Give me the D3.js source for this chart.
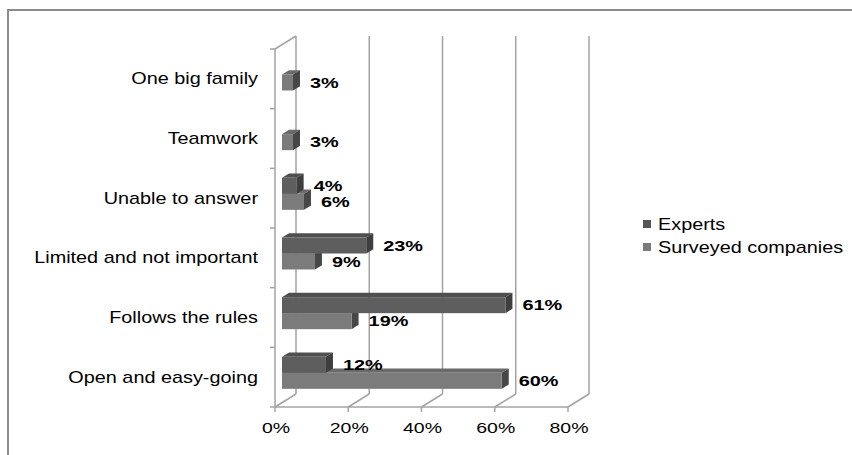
<!DOCTYPE html>
<html>
<head>
<meta charset="utf-8">
<script src="https://cdn.jsdelivr.net/npm/d3@7"></script>
<style>
  body { margin: 0; background: #fff; }
  svg { display: block; font-family: "Liberation Sans", Arial, sans-serif; }
</style>
</head>
<body>
<div id="graph"></div>
<script>
const categories = ["One big family", "Teamwork", "Unable to answer", "Limited and not important", "Follows the rules", "Open and easy-going"]
const seriesNames = ["Experts", "Surveyed companies"]
const experts = [0, 0, 4, 23, 61, 12]
const surveyed = [3, 3, 6, 9, 19, 60]
const xTicks = [0, 20, 40, 60, 80]

const width = 852
const height = 455

// depth of the 3d box (back wall offset)
const DX = 21
const DY = -13

const front = { left: 275, right: 568, top: 49, bottom: 407 }

const colors = {
  "Experts": { front: "#5e5e5e", top: "#4f4f4f", side: "#3e3e3e", key: "#555555" },
  "Surveyed companies": { front: "#7b7b7b", top: "#6a6a6a", side: "#474747", key: "#7b7b7b" }
}

const xScale = d3.scaleLinear()
                 .domain([0, 80])
                 .range([front.left, front.right])

const yScale = d3.scaleBand()
                 .domain(categories)
                 .range([front.top, front.bottom])
                 .paddingInner(0.464)
                 .paddingOuter(0.232)

const ySub = d3.scaleBand()
               .domain(seriesNames)
               .range([0, yScale.bandwidth()])

const svg = d3.select("#graph")
              .append("svg")
              .attr("width", width)
              .attr("height", height)

// outer frame
svg.append("rect")
   .attr("x", 8)
   .attr("y", 10)
   .attr("width", 900)
   .attr("height", 500)
   .attr("fill", "none")
   .attr("stroke", "#8c8c8c")
   .attr("stroke-width", 2)

const grid = svg.append("g")
                .attr("stroke", "#a3a3a3")
                .attr("stroke-width", 1.5)
                .attr("fill", "none")

// back wall gridlines + floor diagonals
xTicks.forEach(t => {
  const x = xScale(t)
  grid.append("line")
      .attr("x1", x + DX).attr("y1", front.top + DY)
      .attr("x2", x + DX).attr("y2", front.bottom + DY)
  grid.append("line")
      .attr("x1", x).attr("y1", front.bottom)
      .attr("x2", x + DX).attr("y2", front.bottom + DY)
  // tick below front floor edge
  grid.append("line")
      .attr("x1", x).attr("y1", front.bottom)
      .attr("x2", x).attr("y2", front.bottom + 5)
})

// left side wall
grid.append("line")
    .attr("x1", front.left).attr("y1", front.top)
    .attr("x2", front.left).attr("y2", front.bottom)
grid.append("line")
    .attr("x1", front.left).attr("y1", front.top)
    .attr("x2", front.left + DX).attr("y2", front.top + DY)

// front floor edge
grid.append("line")
    .attr("x1", front.left).attr("y1", front.bottom)
    .attr("x2", front.right).attr("y2", front.bottom)

// category ticks
const catBounds = categories.map(c => yScale(c) - yScale.step() * yScale.paddingInner() / 2)
catBounds.push(front.bottom)
catBounds.forEach(y => {
  grid.append("line")
      .attr("x1", front.left - 5).attr("y1", y)
      .attr("x2", front.left).attr("y2", y)
})

// scaled text helper (reference text is stretched horizontally)
function label(g, x, y, txt, size, sx, anchor, weight) {
  return g.append("text")
          .attr("transform", `translate(${x},${y}) scale(${sx},1)`)
          .attr("text-anchor", anchor)
          .attr("font-size", size)
          .attr("font-weight", weight || "normal")
          .attr("fill", "#000")
          .text(txt)
}

// x tick labels
const xLabels = svg.append("g")
xTicks.forEach(t => label(xLabels, xScale(t) + 1, 433, t + "%", 14, 1.39, "middle"))

// category labels
const yLabels = svg.append("g")
categories.forEach(c => {
  label(yLabels, 258, yScale(c) + yScale.bandwidth() / 2, c, 16, 1.24, "end")
    .attr("dy", "0.35em")
})

// bars
const bf = 1 / 3
const bx = DX * bf
const by = DY * bf

const rows = categories.map((c, i) => ({
  category: c,
  values: [
    { series: "Surveyed companies", value: surveyed[i] },
    { series: "Experts", value: experts[i] }
  ]
}))

const bars = svg.append("g")
const valueLabels = svg.append("g")

rows.forEach(row => {
  row.values.forEach(d => {
    if (!d.value) return
    const c = colors[d.series]
    const x0 = xScale(0) + bx
    const x1 = xScale(d.value) + bx
    const y0 = yScale(row.category) + ySub(d.series) + by
    const y1 = y0 + ySub.bandwidth()
    const g = bars.append("g")
    g.append("polygon")
     .attr("points", [[x0, y0], [x1, y0], [x1 + bx, y0 + by], [x0 + bx, y0 + by]].join(" "))
     .attr("fill", c.top)
    g.append("polygon")
     .attr("points", [[x1, y0], [x1 + bx, y0 + by], [x1 + bx, y1 + by], [x1, y1]].join(" "))
     .attr("fill", c.side)
    g.append("rect")
     .attr("x", x0)
     .attr("y", y0)
     .attr("width", x1 - x0)
     .attr("height", y1 - y0)
     .attr("fill", c.front)

    label(valueLabels, x1 + bx + 10, (y0 + y1) / 2, d.value + "%", 14, 1.42, "start", "bold")
      .attr("dy", "0.36em")
  })
})

// legend
const legend = svg.append("g")
seriesNames.forEach((s, i) => {
  const y = 224 + i * 23
  legend.append("rect")
        .attr("x", 643)
        .attr("y", y - 4)
        .attr("width", 8)
        .attr("height", 8)
        .attr("fill", colors[s].key)
  label(legend, 658, y, s, 16, 1.24, "start").attr("dy", "0.35em")
})
</script>
</body>
</html>
